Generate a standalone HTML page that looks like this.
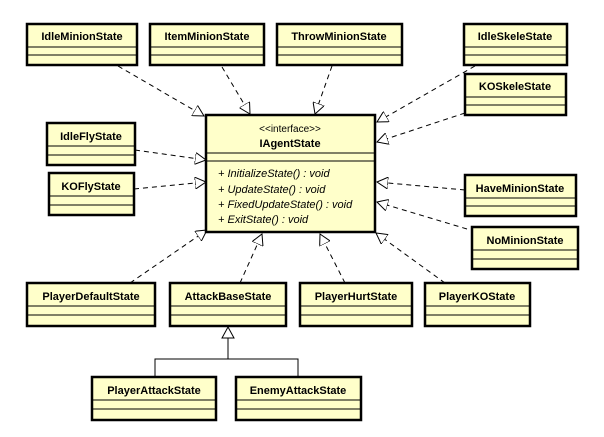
<!DOCTYPE html>
<html><head><meta charset="utf-8"><style>
html,body{margin:0;padding:0;background:#fff;}
svg{display:block;}
text{font-family:"Liberation Sans",Arial,sans-serif;font-size:11px;fill:#000;}
.b{font-weight:bold;}
.box{fill:#ffffca;stroke:#000;stroke-width:2.5;}
.sep{stroke:#000;stroke-width:1;}
.d{stroke:#000;stroke-width:1;stroke-dasharray:5,4;fill:none;}
</style></head><body>
<svg width="604" height="437" viewBox="0 0 604 437" xmlns="http://www.w3.org/2000/svg">
<defs>
<marker id="tri" viewBox="0 0 12 12" refX="11" refY="6" markerWidth="12" markerHeight="12" markerUnits="userSpaceOnUse" orient="auto">
<path d="M0,0 L11,6 L0,12 Z" fill="#fff" stroke="#000" stroke-width="1"/>
</marker>
</defs>
<!-- dashed realizations -->
<line class="d" x1="118" y1="66" x2="204" y2="116" marker-end="url(#tri)"/>
<line class="d" x1="222" y1="67" x2="250" y2="114" marker-end="url(#tri)"/>
<line class="d" x1="332" y1="66" x2="315" y2="114" marker-end="url(#tri)"/>
<line class="d" x1="475" y1="66" x2="377" y2="122" marker-end="url(#tri)"/>
<line class="d" x1="465" y1="113" x2="377" y2="142" marker-end="url(#tri)"/>
<line class="d" x1="135" y1="150" x2="206" y2="160" marker-end="url(#tri)"/>
<line class="d" x1="134" y1="189" x2="206" y2="182" marker-end="url(#tri)"/>
<line class="d" x1="465" y1="190" x2="377" y2="182" marker-end="url(#tri)"/>
<line class="d" x1="467" y1="229" x2="377" y2="202" marker-end="url(#tri)"/>
<line class="d" x1="130" y1="283" x2="207" y2="230" marker-end="url(#tri)"/>
<line class="d" x1="240" y1="283" x2="262" y2="234" marker-end="url(#tri)"/>
<line class="d" x1="345" y1="283" x2="320" y2="234" marker-end="url(#tri)"/>
<line class="d" x1="445" y1="283" x2="376" y2="233" marker-end="url(#tri)"/>
<!-- generalization -->
<polyline points="155,377 155,359 298,359 298,377" fill="none" stroke="#000" stroke-width="1"/>
<line x1="228" y1="359" x2="228" y2="338" stroke="#000" stroke-width="1"/>
<path d="M228,327 L234,338 L222,338 Z" fill="#fff" stroke="#000" stroke-width="1"/>

<!-- boxes: g(x,y,w,name) -->
<g>
<rect class="box" x="27" y="24" width="110" height="41"/><line class="sep" x1="27" y1="47" x2="137" y2="47"/><line class="sep" x1="27" y1="55" x2="137" y2="55"/><text class="b" x="82" y="40" text-anchor="middle">IdleMinionState</text>
<rect class="box" x="150" y="24" width="114" height="41"/><line class="sep" x1="150" y1="47" x2="264" y2="47"/><line class="sep" x1="150" y1="55" x2="264" y2="55"/><text class="b" x="207" y="40" text-anchor="middle">ItemMinionState</text>
<rect class="box" x="277" y="24" width="125" height="41"/><line class="sep" x1="277" y1="47" x2="402" y2="47"/><line class="sep" x1="277" y1="55" x2="402" y2="55"/><text class="b" x="339" y="40" text-anchor="middle">ThrowMinionState</text>
<rect class="box" x="464" y="24" width="103" height="41"/><line class="sep" x1="464" y1="47" x2="567" y2="47"/><line class="sep" x1="464" y1="55" x2="567" y2="55"/><text class="b" x="515" y="40" text-anchor="middle">IdleSkeleState</text>
<rect class="box" x="465" y="74" width="101" height="41"/><line class="sep" x1="465" y1="97" x2="566" y2="97"/><line class="sep" x1="465" y1="105" x2="566" y2="105"/><text class="b" x="515" y="90" text-anchor="middle">KOSkeleState</text>
<rect class="box" x="47" y="123" width="88" height="42"/><line class="sep" x1="47" y1="146" x2="135" y2="146"/><line class="sep" x1="47" y1="155" x2="135" y2="155"/><text class="b" x="91" y="140" text-anchor="middle">IdleFlyState</text>
<rect class="box" x="49" y="173" width="85" height="42"/><line class="sep" x1="49" y1="196" x2="134" y2="196"/><line class="sep" x1="49" y1="205" x2="134" y2="205"/><text class="b" x="91" y="190" text-anchor="middle">KOFlyState</text>
<rect class="box" x="465" y="175" width="111" height="41"/><line class="sep" x1="465" y1="198" x2="576" y2="198"/><line class="sep" x1="465" y1="206" x2="576" y2="206"/><text class="b" x="520" y="192" text-anchor="middle">HaveMinionState</text>
<rect class="box" x="472" y="227" width="106" height="42"/><line class="sep" x1="472" y1="250" x2="578" y2="250"/><line class="sep" x1="472" y1="259" x2="578" y2="259"/><text class="b" x="525" y="244" text-anchor="middle">NoMinionState</text>
<rect class="box" x="27" y="283" width="128" height="43"/><line class="sep" x1="27" y1="306" x2="155" y2="306"/><line class="sep" x1="27" y1="315" x2="155" y2="315"/><text class="b" x="91" y="300" text-anchor="middle">PlayerDefaultState</text>
<rect class="box" x="170" y="283" width="116" height="43"/><line class="sep" x1="170" y1="306" x2="286" y2="306"/><line class="sep" x1="170" y1="315" x2="286" y2="315"/><text class="b" x="228" y="300" text-anchor="middle">AttackBaseState</text>
<rect class="box" x="300" y="283" width="112" height="43"/><line class="sep" x1="300" y1="306" x2="412" y2="306"/><line class="sep" x1="300" y1="315" x2="412" y2="315"/><text class="b" x="356" y="300" text-anchor="middle">PlayerHurtState</text>
<rect class="box" x="425" y="283" width="105" height="43"/><line class="sep" x1="425" y1="306" x2="530" y2="306"/><line class="sep" x1="425" y1="315" x2="530" y2="315"/><text class="b" x="477" y="300" text-anchor="middle">PlayerKOState</text>
<rect class="box" x="92" y="377" width="124" height="43"/><line class="sep" x1="92" y1="400" x2="216" y2="400"/><line class="sep" x1="92" y1="409" x2="216" y2="409"/><text class="b" x="154" y="394" text-anchor="middle">PlayerAttackState</text>
<rect class="box" x="236" y="377" width="125" height="43"/><line class="sep" x1="236" y1="400" x2="361" y2="400"/><line class="sep" x1="236" y1="409" x2="361" y2="409"/><text class="b" x="298" y="394" text-anchor="middle">EnemyAttackState</text>
<!-- interface -->
<rect class="box" x="206" y="115" width="169" height="117"/>
<line class="sep" x1="206" y1="153" x2="375" y2="153"/><line class="sep" x1="206" y1="161" x2="375" y2="161"/>
<text x="290" y="132" text-anchor="middle" style="font-size:10px">&lt;&lt;interface&gt;&gt;</text>
<text class="b" x="290" y="147" text-anchor="middle">IAgentState</text>
<text x="218" y="177" font-style="italic">+ InitializeState() : void</text>
<text x="218" y="193" font-style="italic">+ UpdateState() : void</text>
<text x="218" y="208" font-style="italic">+ FixedUpdateState() : void</text>
<text x="218" y="223" font-style="italic">+ ExitState() : void</text>
</g>
</svg>
</body></html>
